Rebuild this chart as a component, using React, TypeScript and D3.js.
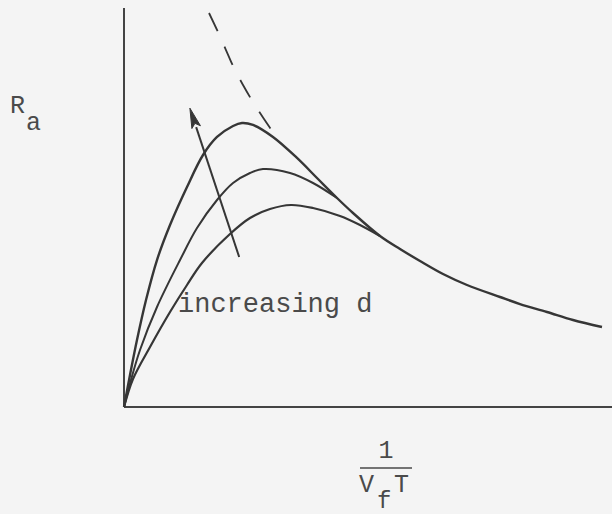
import React from "react";
import * as d3 from "d3";

// Schematic curves of R_a against 1/(V_f T) for three values of d.
type Pt = [number, number];

const curveSmallD: Pt[] = [
  [0, 0], [0.184, 0.702], [0.533, 1.504], [0.943, 2.381], [1.291, 3.058],
  [1.598, 3.609], [2.172, 4.336], [2.582, 4.737], [2.992, 4.962], [3.422, 5.063],
  [3.873, 4.987], [4.426, 4.787], [4.836, 4.561], [5.246, 4.286],
];

const curveMidD: Pt[] = [
  [0, 0], [0.143, 0.677], [0.328, 1.429], [0.676, 2.506], [1.148, 3.684],
  [1.496, 4.486], [1.906, 5.188], [2.234, 5.614], [2.582, 5.865], [2.848, 5.965],
  [3.402, 5.865], [3.873, 5.614], [4.365, 5.238],
];

const curveLargeD: Pt[] = [
  [0, 0], [0.123, 0.802], [0.266, 1.679], [0.451, 2.682], [0.676, 3.684],
  [0.943, 4.561], [1.291, 5.514], [1.619, 6.316], [1.906, 6.767], [2.234, 7.043],
  [2.418, 7.118], [2.643, 7.068], [3.053, 6.767], [3.545, 6.241], [3.955, 5.739],
  [4.365, 5.238], [4.693, 4.862], [5.246, 4.286], [5.656, 3.96], [6.066, 3.659],
  [6.537, 3.333], [7.029, 3.058], [7.705, 2.757], [8.115, 2.581], [8.668, 2.381],
  [9.201, 2.18], [9.795, 2.005],
];

// Limiting envelope continued above the peaks (dashed)
const envelope: Pt[] = [
  [1.742, 9.875], [1.926, 9.398], [2.09, 8.947], [2.254, 8.496], [2.439, 8.07],
  [2.643, 7.644], [2.869, 7.218], [3.094, 6.817],
];

// Direction of increasing d
const arrowFrom: Pt = [2.36, 3.76];
const arrowTo: Pt = [1.35, 7.49];

const xDomain: [number, number] = [0, 10];
const yDomain: [number, number] = [0, 10];

const W = 612;
const H = 514;
const INK = "#363636";
const TEXT = "#4a4a4a";
const FONT =
  "'Courier New', Courier, 'Nimbus Mono PS', FreeMono, 'Liberation Mono', monospace";

export default function App() {
  const x = d3.scaleLinear().domain(xDomain).range([124, 612]);
  const y = d3.scaleLinear().domain(yDomain).range([407, 8]);

  const line = d3
    .line<Pt>()
    .x((d) => x(d[0]))
    .y((d) => y(d[1]))
    .curve(d3.curveCatmullRom.alpha(0.5));

  const ax = x(arrowFrom[0]);
  const ay = y(arrowFrom[1]);
  const bx = x(arrowTo[0]);
  const by = y(arrowTo[1]);
  const ang = Math.atan2(by - ay, bx - ax);
  const headLen = 20;
  const headHalf = 4.5;
  const baseX = bx - headLen * Math.cos(ang);
  const baseY = by - headLen * Math.sin(ang);
  const nx = -Math.sin(ang);
  const ny = Math.cos(ang);
  const head = [
    [bx, by],
    [baseX + nx * headHalf, baseY + ny * headHalf],
    [baseX + (bx - baseX) * 0.2, baseY + (by - baseY) * 0.2],
    [baseX - nx * headHalf, baseY - ny * headHalf],
  ]
    .map((p) => p.join(","))
    .join(" ");

  return (
    <svg
      width={W}
      height={H}
      style={{ position: "absolute", left: 0, top: 0, background: "#f4f4f4" }}
    >
      <rect x={0} y={0} width={W} height={H} fill="#f4f4f4" />

      {/* axes */}
      <line x1={x(0)} y1={y(10)} x2={x(0)} y2={y(0)} stroke="#444" strokeWidth={2} />
      <line x1={x(0)} y1={y(0)} x2={x(10)} y2={y(0)} stroke="#444" strokeWidth={2} />

      {/* curves */}
      <path d={line(curveSmallD) ?? ""} fill="none" stroke={INK} strokeWidth={2.2} />
      <path d={line(curveMidD) ?? ""} fill="none" stroke={INK} strokeWidth={2} />
      <path d={line(curveLargeD) ?? ""} fill="none" stroke={INK} strokeWidth={2.4} />
      <path
        d={line(envelope) ?? ""}
        fill="none"
        stroke={INK}
        strokeWidth={1.8}
        strokeDasharray="20 17"
      />

      {/* arrow */}
      <line x1={ax} y1={ay} x2={baseX} y2={baseY} stroke={INK} strokeWidth={2} />
      <polygon points={head} fill={INK} stroke={INK} strokeWidth={1} />

      {/* labels */}
      <g fill={TEXT} fontFamily={FONT}>
        <text x={10} y={113} fontSize={25}>R</text>
        <text x={26} y={130} fontSize={25}>a</text>
        <text x={178} y={312} fontSize={27}>increasing d</text>
        <text x={386} y={458} fontSize={25} textAnchor="middle">1</text>
        <text x={359} y={492} fontSize={25}>V</text>
        <text x={377} y={508} fontSize={24}>f</text>
        <text x={394} y={492} fontSize={25}>T</text>
      </g>
      <line x1={360} y1={468} x2={412} y2={468} stroke={TEXT} strokeWidth={1.6} />
    </svg>
  );
}
